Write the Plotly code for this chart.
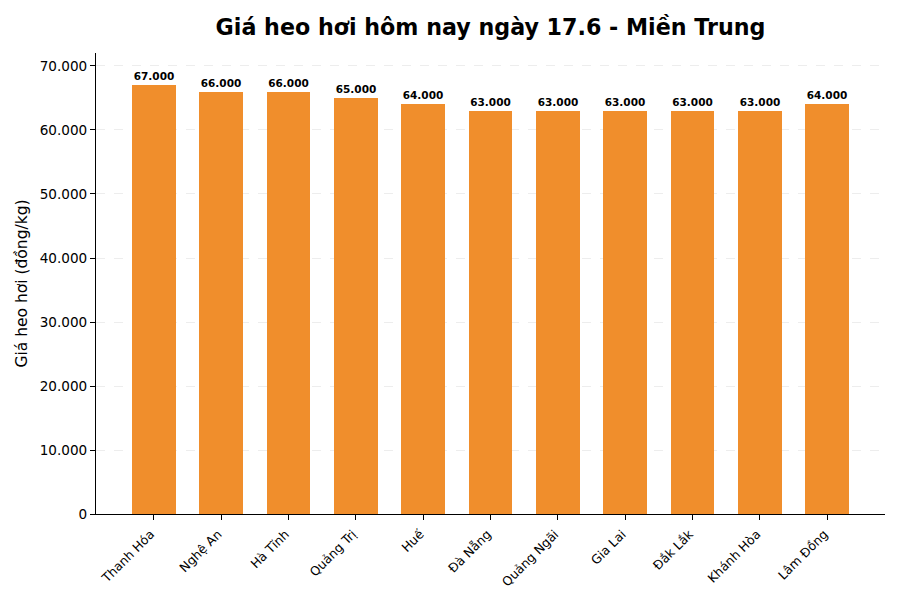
import plotly.graph_objects as go

provinces = ["Thanh Hóa", "Nghệ An", "Hà Tĩnh", "Quảng Trị", "Huế", "Đà Nẵng",
             "Quảng Ngãi", "Gia Lai", "Đắk Lắk", "Khánh Hòa", "Lâm Đồng"]
prices = [67000, 66000, 66000, 65000, 64000, 63000, 63000, 63000, 63000, 63000, 64000]
ytick_vals = [0, 10000, 20000, 30000, 40000, 50000, 60000, 70000]

labels = [f"{v:,}".replace(",", ".") for v in prices]
ytick_text = [f"{v:,}".replace(",", ".") for v in ytick_vals]

fig = go.Figure(go.Bar(
    x=list(range(len(provinces))), y=prices,
    width=0.65,
    marker=dict(color="rgb(240,142,44)", line=dict(width=0)),
    text=labels, textposition="outside", cliponaxis=False,
    textfont=dict(family="DejaVu Sans", size=10.5, color="black", weight="bold"),
))

fig.update_layout(
    width=900, height=600,
    margin=dict(l=96, r=15, t=53, b=86),
    plot_bgcolor="white", paper_bgcolor="white",
    font=dict(family="DejaVu Sans", color="black"),
    title=dict(text="<b>Giá heo hơi hôm nay ngày 17.6 - Miền Trung</b>",
               x=0.545, xanchor="center", y=0.955, yanchor="middle",
               font=dict(size=22.2, family="DejaVu Sans", color="black")),
    showlegend=False,
    bargap=0,
)
fig.update_xaxes(
    range=[-0.8575, 10.8575],
    tickvals=list(range(len(provinces))), ticktext=provinces,
    tickangle=-45, tickfont=dict(size=12.5),
    ticklabelshift=-3, ticklabelstandoff=2,
    showline=True, linecolor="black", linewidth=1,
    ticks="outside", ticklen=5, tickcolor="black",
    showgrid=False, zeroline=False,
)
fig.update_yaxes(
    range=[0, 72030],
    tickvals=ytick_vals, ticktext=ytick_text, tickfont=dict(size=13.6),
    showline=True, linecolor="black", linewidth=1,
    ticks="outside", ticklen=5, tickcolor="black",
    showgrid=True, gridcolor="rgba(0,0,0,0.07)", griddash="dash", gridwidth=0.8,
    zeroline=False,
    title=dict(text="Giá heo hơi (đồng/kg)", font=dict(size=15.5), standoff=8),
)

fig.write_html("out.html")
